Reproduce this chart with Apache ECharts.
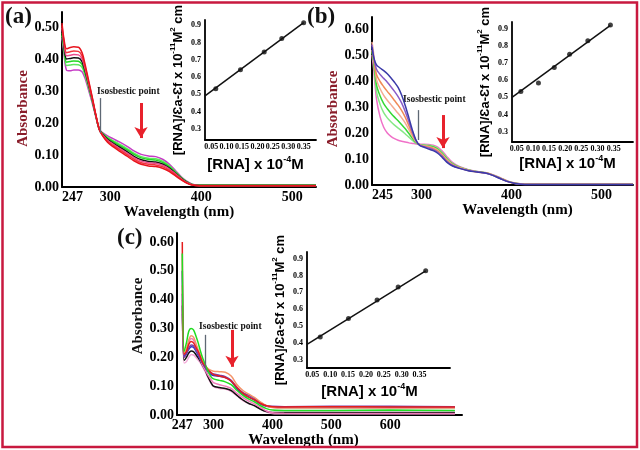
<!DOCTYPE html>
<html><head><meta charset="utf-8">
<script src="https://cdn.jsdelivr.net/npm/echarts@6/dist/echarts.min.js"></script>
<style>html,body{margin:0;padding:0;background:#fff}#c{width:640px;height:450px}</style>
</head><body><div id="c"></div>
<script>
// ---------- Panel (a) spectra ----------
const wlA = [247,249,252,256,260,265,269,272,276,280,284,288,292,297,303,310,318,326,334,342,350,358,365,372,378,384,390,398,420,460,500,526];
const aRed1 = [0.512,0.465,0.432,0.436,0.438,0.437,0.420,0.388,0.336,0.284,0.228,0.180,0.158,0.140,0.126,0.112,0.097,0.082,0.071,0.066,0.064,0.058,0.048,0.034,0.022,0.012,0.006,0.004,0.004,0.004,0.004,0.004];
const aRed2 = [0.505,0.458,0.420,0.423,0.425,0.424,0.410,0.380,0.331,0.281,0.227,0.180,0.160,0.143,0.130,0.117,0.102,0.087,0.076,0.071,0.069,0.063,0.052,0.037,0.024,0.013,0.006,0.004,0.004,0.004,0.004,0.004];
const aPink = [0.498,0.452,0.410,0.412,0.414,0.413,0.401,0.373,0.327,0.278,0.226,0.180,0.162,0.146,0.134,0.121,0.107,0.092,0.081,0.076,0.074,0.067,0.056,0.040,0.026,0.014,0.007,0.005,0.005,0.005,0.005,0.005];
const aBlack = [0.490,0.445,0.400,0.402,0.404,0.403,0.392,0.366,0.323,0.276,0.225,0.180,0.164,0.149,0.137,0.125,0.111,0.096,0.085,0.080,0.078,0.071,0.059,0.042,0.027,0.015,0.007,0.005,0.005,0.005,0.005,0.005];
const aGreen = [0.482,0.438,0.390,0.392,0.394,0.393,0.383,0.359,0.318,0.273,0.224,0.180,0.166,0.153,0.142,0.130,0.117,0.102,0.091,0.086,0.084,0.076,0.063,0.045,0.029,0.016,0.008,0.006,0.006,0.006,0.006,0.006];
const aGreen2 = [0.474,0.430,0.380,0.381,0.383,0.382,0.374,0.352,0.313,0.270,0.223,0.180,0.167,0.155,0.145,0.134,0.121,0.106,0.095,0.090,0.088,0.080,0.066,0.047,0.030,0.017,0.008,0.006,0.006,0.006,0.006,0.006];
const aMagenta = [0.465,0.420,0.365,0.363,0.366,0.366,0.360,0.342,0.305,0.265,0.221,0.180,0.169,0.160,0.151,0.141,0.128,0.113,0.102,0.097,0.095,0.086,0.071,0.050,0.032,0.018,0.009,0.006,0.006,0.006,0.006,0.006];
const aTicksX = [247,300,400,500];
const aTicksY = [0,0.1,0.2,0.3,0.4,0.5];

// ---------- Panel (b) spectra ----------
const wlB = [245,247,250,254,258,262,266,270,274,278,282,286,290,294,298,303,308,313,318,323,328,334,342,352,362,372,380,388,396,404,415,440,480,520,535];
const bBlue = [0.53,0.49,0.462,0.450,0.440,0.428,0.412,0.395,0.375,0.345,0.305,0.258,0.210,0.172,0.152,0.145,0.138,0.132,0.122,0.106,0.088,0.074,0.064,0.055,0.050,0.045,0.036,0.024,0.013,0.006,0.002,0.002,0.002,0.002,0.002];
const bPurple = [0.54,0.49,0.445,0.425,0.410,0.395,0.378,0.360,0.340,0.315,0.282,0.243,0.203,0.170,0.153,0.147,0.142,0.136,0.126,0.110,0.091,0.076,0.065,0.056,0.050,0.045,0.036,0.024,0.013,0.006,0.002,0.002,0.002,0.002,0.002];
const bOrange = [0.52,0.48,0.425,0.398,0.378,0.360,0.343,0.325,0.307,0.286,0.260,0.228,0.195,0.168,0.154,0.149,0.145,0.140,0.130,0.114,0.094,0.078,0.066,0.056,0.050,0.046,0.037,0.025,0.013,0.006,0.003,0.003,0.003,0.003,0.003];
const bSalmon = [0.55,0.50,0.405,0.370,0.345,0.326,0.309,0.292,0.276,0.258,0.238,0.213,0.187,0.165,0.155,0.151,0.148,0.143,0.134,0.118,0.098,0.080,0.067,0.057,0.051,0.046,0.037,0.025,0.014,0.007,0.003,0.003,0.003,0.003,0.003];
const bGreen = [0.51,0.47,0.385,0.342,0.313,0.293,0.276,0.261,0.247,0.232,0.216,0.198,0.179,0.163,0.155,0.152,0.150,0.146,0.137,0.121,0.101,0.082,0.068,0.058,0.051,0.046,0.037,0.025,0.014,0.007,0.003,0.003,0.003,0.003,0.003];
const bLgreen = [0.52,0.47,0.360,0.310,0.278,0.258,0.243,0.230,0.219,0.208,0.196,0.184,0.171,0.161,0.156,0.154,0.152,0.149,0.141,0.125,0.104,0.084,0.069,0.058,0.052,0.047,0.038,0.026,0.014,0.007,0.003,0.003,0.003,0.003,0.003];
const bPink = [0.50,0.44,0.330,0.262,0.222,0.200,0.187,0.178,0.172,0.168,0.165,0.162,0.160,0.158,0.157,0.157,0.156,0.153,0.146,0.131,0.110,0.088,0.071,0.059,0.052,0.047,0.039,0.027,0.015,0.008,0.003,0.003,0.003,0.003,0.003];
const bTicksX = [245,300,400,500];
const bTicksY = [0,0.1,0.2,0.3,0.4,0.5,0.6];

// ---------- Panel (c) spectra ----------
const wlC = [247,250,254,258,262,266,270,274,278,282,286,290,295,300,310,320,330,340,350,360,370,380,390,400,420,500,600,710];
const cGreen = [0.56,0.22,0.25,0.29,0.300,0.295,0.275,0.250,0.220,0.195,0.175,0.155,0.135,0.125,0.120,0.115,0.105,0.085,0.068,0.055,0.045,0.032,0.022,0.017,0.016,0.016,0.017,0.016];
const cRed = [0.60,0.21,0.22,0.245,0.255,0.250,0.235,0.220,0.200,0.180,0.170,0.158,0.148,0.140,0.135,0.130,0.118,0.095,0.075,0.062,0.052,0.040,0.032,0.029,0.028,0.029,0.028,0.028];
const cOrange = [0.45,0.21,0.23,0.26,0.275,0.270,0.250,0.225,0.205,0.185,0.172,0.162,0.155,0.152,0.150,0.148,0.135,0.105,0.085,0.072,0.060,0.045,0.032,0.026,0.024,0.024,0.024,0.024];
const cPink = [0.40,0.20,0.22,0.25,0.265,0.260,0.240,0.215,0.190,0.170,0.155,0.140,0.125,0.112,0.105,0.100,0.092,0.075,0.060,0.048,0.038,0.026,0.014,0.008,0.006,0.005,0.005,0.005];
const cPurple = [0.42,0.20,0.21,0.232,0.243,0.240,0.225,0.210,0.195,0.180,0.168,0.158,0.148,0.142,0.138,0.133,0.120,0.095,0.078,0.068,0.057,0.042,0.032,0.030,0.029,0.030,0.030,0.029];
const cBlue = [0.50,0.205,0.215,0.228,0.237,0.235,0.222,0.207,0.192,0.178,0.165,0.152,0.142,0.137,0.134,0.130,0.117,0.090,0.072,0.062,0.052,0.038,0.030,0.027,0.026,0.026,0.026,0.026];
const cBlack = [0.38,0.19,0.20,0.215,0.222,0.220,0.210,0.198,0.185,0.170,0.155,0.135,0.115,0.100,0.095,0.092,0.085,0.068,0.052,0.040,0.032,0.020,0.012,0.009,0.009,0.009,0.009,0.009];
const cLpink = [0.35,0.18,0.185,0.20,0.210,0.208,0.200,0.190,0.180,0.165,0.150,0.132,0.112,0.098,0.092,0.090,0.082,0.066,0.050,0.040,0.032,0.020,0.010,0.005,0.004,0.004,0.004,0.004];
const cTicksX = [247,300,400,500,600];
const cTicksY = [0,0.1,0.2,0.3,0.4,0.5,0.6];

// ---------- Insets: [RNA]/(εa-εf) vs [RNA] ----------
const insetTicksX = [0.05,0.10,0.15,0.20,0.25,0.30,0.35];
const insetTicksY = [0.3,0.4,0.5,0.6,0.7,0.8,0.9];
const aRnaX = [0.065,0.145,0.222,0.279,0.35];
const aRnaY = [0.532,0.642,0.745,0.823,0.914];
const aFitX = [0.03,0.35];
const aFitY = [0.49,0.915];
const bRnaX = [0.0625,0.117,0.166,0.2135,0.27,0.34];
const bRnaY = [0.535,0.584,0.674,0.752,0.831,0.922];
const bFitX = [0.035,0.34];
const bFitY = [0.50,0.92];
const cRnaX = [0.072,0.151,0.231,0.29,0.367];
const cRnaY = [0.434,0.545,0.654,0.732,0.828];
const cFitX = [0.035,0.367];
const cFitY = [0.39,0.828];

const SERIF = 'Liberation Serif';
const SANS = 'Liberation Sans';
const zip = (xs, ys) => xs.map((x, i) => [x, ys[i]]);
const shiftPad = s => (s < 0 ? [0, -2 * s, 0, 0] : [0, 0, 0, 2 * s]);

function mainX(min, max, ticks, alignMin, nameShift) {
  return {
    type: 'value', min, max,
    axisLine: { show: true, lineStyle: { color: '#000', width: 2 } },
    axisTick: { show: false, customValues: ticks },
    splitLine: { show: false },
    axisLabel: { customValues: ticks, formatter: v => String(Math.round(v)), fontFamily: SERIF, fontWeight: 'bold', fontSize: 14, color: '#000', margin: 3, alignMinLabel: alignMin ? 'left' : undefined },
    name: 'Wavelength (nm)', nameLocation: 'middle', nameGap: 14,
    nameTextStyle: { fontFamily: SERIF, fontWeight: 'bold', fontSize: 15, color: '#000', padding: shiftPad(nameShift) }
  };
}
function mainY(max, ticks, gap, nameColor, shiftDown) {
  return {
    type: 'value', min: 0, max,
    axisLine: { show: true, lineStyle: { color: '#000', width: 2 } },
    axisTick: { show: false, customValues: ticks },
    splitLine: { show: false },
    axisLabel: { customValues: ticks, formatter: v => v.toFixed(2), fontFamily: SERIF, fontWeight: 'bold', fontSize: 14, color: '#000', margin: 3 },
    name: 'Absorbance', nameLocation: 'middle', nameRotate: 90, nameGap: gap,
    nameTextStyle: { fontFamily: SERIF, fontWeight: 'bold', fontSize: 15, color: nameColor, padding: shiftDown >= 0 ? [0, 2 * shiftDown, 0, 0] : [0, 0, 0, -2 * shiftDown] }
  };
}
function insetX(min, max, gap, shift) {
  return {
    type: 'value', min, max,
    axisLine: { show: true, lineStyle: { color: '#000', width: 1.8 } },
    axisTick: { show: false, customValues: insetTicksX },
    splitLine: { show: false },
    axisLabel: { customValues: insetTicksX, formatter: v => v.toFixed(2), fontFamily: SERIF, fontWeight: 'bold', fontSize: 8, color: '#000', margin: 3 },
    name: '[RNA] x 10{s|-4}M', nameLocation: 'middle', nameGap: gap,
    nameTextStyle: { fontFamily: SANS, fontWeight: 'bold', fontSize: 15, lineHeight: 20, color: '#000',
      padding: shiftPad(shift),
      rich: { s: { fontFamily: SANS, fontWeight: 'bold', fontSize: 9, verticalAlign: 'top', lineHeight: 9 } } }
  };
}
function insetY(min, max, gap) {
  return {
    type: 'value', min, max,
    axisLine: { show: true, lineStyle: { color: '#000', width: 1.8 } },
    axisTick: { show: false, customValues: insetTicksY },
    splitLine: { show: false },
    axisLabel: { customValues: insetTicksY, formatter: v => v.toFixed(1), fontFamily: SERIF, fontWeight: 'bold', fontSize: 8, color: '#000', margin: 4 },
    name: '[RNA]/\u0190a-\u0190f x 10{s|-11}M{s|2} cm', nameLocation: 'middle', nameRotate: 90, nameGap: gap,
    nameTextStyle: { fontFamily: SANS, fontWeight: 'bold', fontSize: 13, lineHeight: 18, color: '#000',
      rich: { s: { fontFamily: SANS, fontWeight: 'bold', fontSize: 8, verticalAlign: 'top', lineHeight: 8 } } }
  };
}

function curve(xi, wl, vals, color) {
  return { type: 'line', xAxisIndex: xi, yAxisIndex: xi, data: zip(wl, vals), showSymbol: false, smooth: 0.3,
    lineStyle: { width: 1.5, color }, itemStyle: { color }, silent: true };
}
function annot(xi, grey, red) {
  return { type: 'line', xAxisIndex: xi, yAxisIndex: xi, data: [], silent: true,
    markLine: { silent: true, animation: false, label: { show: false }, emphasis: { disabled: true },
      data: [
        [{ coord: grey[0], symbol: 'none', lineStyle: { color: '#5e6874', width: 1.3, type: 'solid' } }, { coord: grey[1], symbol: 'none' }],
        [{ coord: red[0], symbol: 'none', lineStyle: { color: '#e8222c', width: 3, type: 'solid' } }, { coord: red[1], symbol: 'arrow', symbolSize: [10, 11] }]
      ] } };
}
function insetSeries(xi, xs, ys, fx, fy) {
  return [
    { type: 'line', xAxisIndex: xi, yAxisIndex: xi, data: zip(fx, fy), showSymbol: false, lineStyle: { color: '#111', width: 1.5 }, silent: true },
    { type: 'scatter', xAxisIndex: xi, yAxisIndex: xi, data: zip(xs, ys), symbol: 'circle', symbolSize: 5, itemStyle: { color: '#111' }, silent: true }
  ];
}

const MAROON = '#8a1d2a';
const option = {
  animation: false,
  backgroundColor: '#ffffff',
  grid: [
    { left: 62, top: 12, width: 254, height: 175, outerBoundsMode: 'none' },
    { left: 205, top: 20, width: 111, height: 120, outerBoundsMode: 'none' },
    { left: 372, top: 17, width: 261, height: 168, outerBoundsMode: 'none' },
    { left: 512, top: 22, width: 121, height: 120, outerBoundsMode: 'none' },
    { left: 177, top: 233, width: 285, height: 182, outerBoundsMode: 'none' },
    { left: 307, top: 252, width: 143, height: 116, outerBoundsMode: 'none' }
  ],
  xAxis: [
    Object.assign(mainX(247, 526, aTicksX, true, -10), { gridIndex: 0 }),
    Object.assign(insetX(0.03, 0.39, 15, -5), { gridIndex: 1 }),
    Object.assign(mainX(245, 535, bTicksX, true, 15), { gridIndex: 2 }),
    Object.assign(insetX(0.035, 0.41, 7, -5), { gridIndex: 3 }),
    Object.assign(mainX(238, 722, cTicksX, false, -16), { gridIndex: 4 }),
    Object.assign(insetX(0.035, 0.435, 14, -9), { gridIndex: 5 })
  ],
  yAxis: [
    Object.assign(mainY(0.547, aTicksY, 27, MAROON, 9), { gridIndex: 0 }),
    Object.assign(insetY(0.235, 0.93, 17), { gridIndex: 1 }),
    Object.assign(mainY(0.646, bTicksY, 26, MAROON, 8), { gridIndex: 2 }),
    Object.assign(insetY(0.24, 0.94, 18), { gridIndex: 3 }),
    Object.assign(mainY(0.631, cTicksY, 27, '#111', -8), { gridIndex: 4 }),
    Object.assign(insetY(0.25, 0.94, 17), { gridIndex: 5 })
  ],
  series: [
    curve(0, wlA, aMagenta, '#c63cc6'),
    curve(0, wlA, aGreen2, '#5fe85f'),
    curve(0, wlA, aGreen, '#22d822'),
    curve(0, wlA, aBlack, '#111111'),
    curve(0, wlA, aPink, '#ec4a8e'),
    curve(0, wlA, aRed2, '#f2343e'),
    curve(0, wlA, aRed1, '#e8141e'),
    annot(0, [[288.8, 0.278], [288.8, 0.169]], [[333.8, 0.2625], [333.8, 0.153]]),
    ...insetSeries(1, aRnaX, aRnaY, aFitX, aFitY),

    curve(2, wlB, bPink, '#f070c8'),
    curve(2, wlB, bLgreen, '#86e886'),
    curve(2, wlB, bGreen, '#36d836'),
    curve(2, wlB, bSalmon, '#f4aa92'),
    curve(2, wlB, bOrange, '#f08a58'),
    curve(2, wlB, bPurple, '#8a5cc8'),
    curve(2, wlB, bBlue, '#3a3aa8'),
    annot(2, [[296, 0.288], [296, 0.173]], [[323.9, 0.269], [323.9, 0.142]]),
    ...insetSeries(3, bRnaX, bRnaY, bFitX, bFitY),

    curve(4, wlC, cLpink, '#f4a8d8'),
    curve(4, wlC, cBlack, '#111111'),
    curve(4, wlC, cPink, '#f07ab8'),
    curve(4, wlC, cBlue, '#2535c8'),
    curve(4, wlC, cPurple, '#7b3fa8'),
    curve(4, wlC, cOrange, '#f4956a'),
    curve(4, wlC, cRed, '#e41e1e'),
    curve(4, wlC, cGreen, '#22dd22'),
    annot(4, [[285.5, 0.278], [285.5, 0.167]], [[331.4, 0.295], [331.4, 0.167]]),
    ...insetSeries(5, cRnaX, cRnaY, cFitX, cFitY)
  ],
  graphic: [
    { type: 'rect', silent: true, z: 100, shape: { x: 2.5, y: 2.5, width: 634.5, height: 444.5 }, style: { fill: 'none', stroke: '#c8193f', lineWidth: 2.5 } },
    { type: 'text', left: 5, top: 6, silent: true, style: { text: '(a)', font: 'bold 23px "Liberation Serif"', fill: '#111' } },
    { type: 'text', left: 307, top: 6, silent: true, style: { text: '(b)', font: 'bold 23px "Liberation Serif"', fill: '#111' } },
    { type: 'text', left: 117, top: 227, silent: true, style: { text: '(c)', font: 'bold 23px "Liberation Serif"', fill: '#111' } },
    { type: 'text', left: 97, top: 87, silent: true, style: { text: 'Isosbestic point', font: 'bold 9.5px "Liberation Serif"', fill: '#111' } },
    { type: 'text', left: 403, top: 95, silent: true, style: { text: 'Isosbestic point', font: 'bold 9.5px "Liberation Serif"', fill: '#111' } },
    { type: 'text', left: 199, top: 322, silent: true, style: { text: 'Isosbestic point', font: 'bold 9.5px "Liberation Serif"', fill: '#111' } }
  ]
};
const chart = echarts.init(document.getElementById('c'), null, { renderer: 'canvas' });
chart.setOption(option);
</script>
</body></html>
